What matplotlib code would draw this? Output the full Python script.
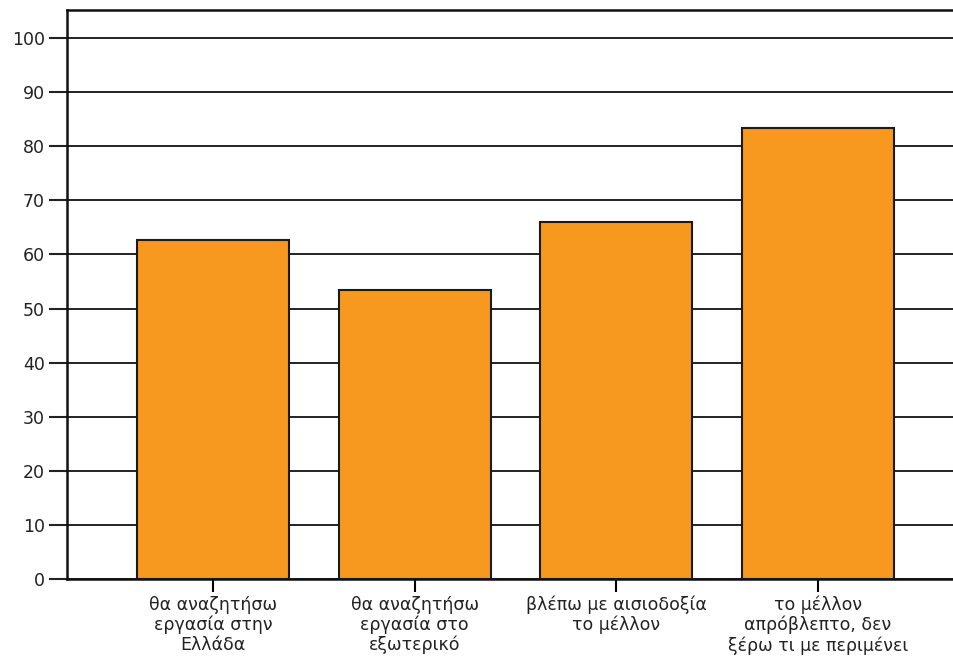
import matplotlib.pyplot as plt

categories = [
    "θα αναζητήσω\nεργασία στην\nΕλλάδα",
    "θα αναζητήσω\nεργασία στο\nεξωτερικό",
    "βλέπω με αισιοδοξία\nτο μέλλον",
    "το μέλλον\nαπρόβλεπτο, δεν\nξέρω τι με περιμένει",
]
values = [62.6, 53.4, 66.0, 83.4]
yticks = list(range(0, 101, 10))

plt.rcParams['font.family'] = ['DejaVu Sans']

fig = plt.figure(figsize=(9.54, 6.59), dpi=100)
ax = fig.add_axes([0.0702, 0.1214, 0.9298, 0.8634])

ax.set_axisbelow(True)
ax.yaxis.grid(True, color='#222222', linewidth=1.4)
ax.bar(range(len(values)), values, width=0.754, color='#F7981F',
       edgecolor='#1a1a1a', linewidth=1.5, zorder=3)

ax.set_xlim(-0.724, 3.674)
ax.set_ylim(0, 105.2)
ax.set_yticks(yticks)
ax.set_xticks(range(len(categories)))
ax.set_xticklabels(categories, fontsize=12.5, color='#222222', linespacing=1.12)
ax.tick_params(axis='y', length=13, width=1.5, labelsize=12.5, colors='#222222', pad=3)
ax.tick_params(axis='x', length=9, width=1.5, pad=3)

ax.spines['right'].set_visible(False)
for s in ['left', 'bottom', 'top']:
    ax.spines[s].set_linewidth(1.8)
    ax.spines[s].set_color('#111111')

plt.savefig("out.png", dpi=100)
